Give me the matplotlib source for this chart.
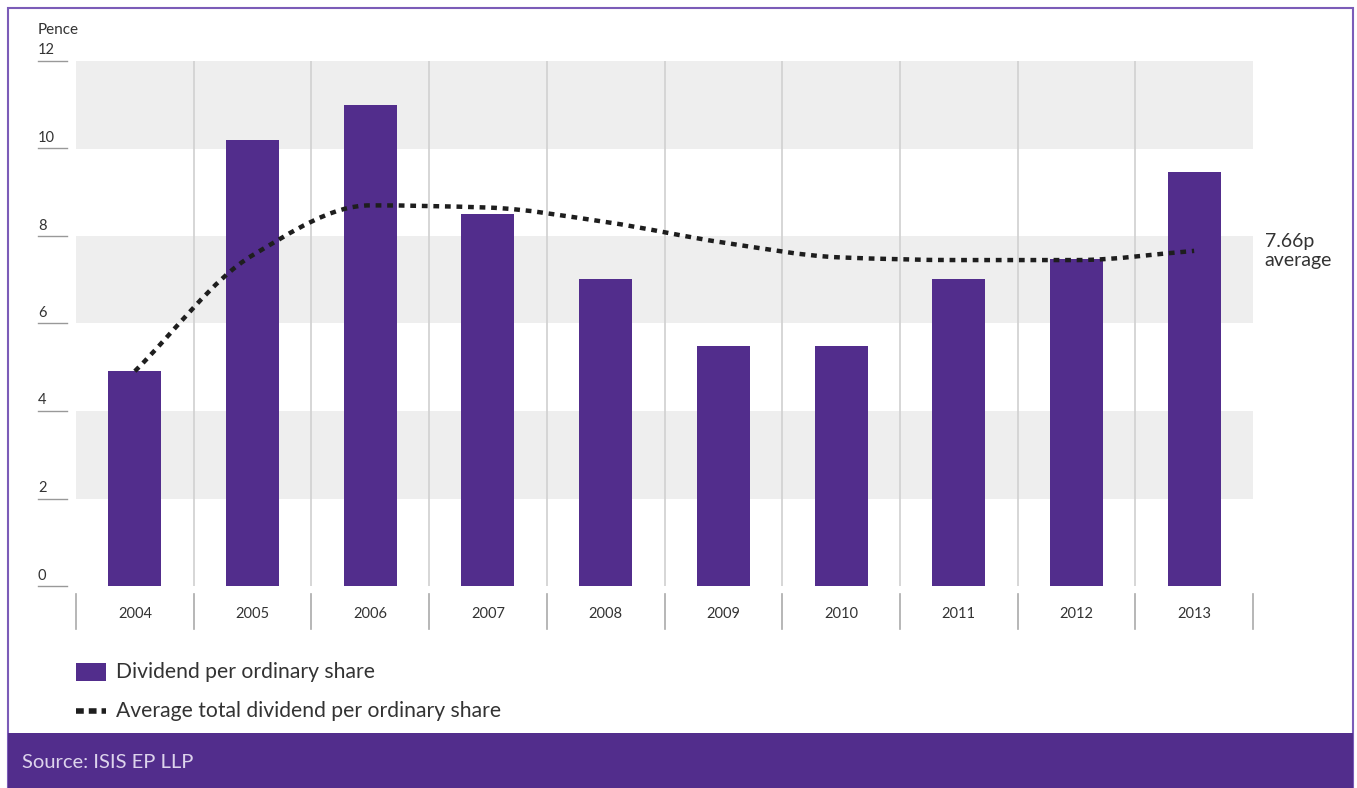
import matplotlib.pyplot as plt
import numpy as np
from matplotlib.path import Path
from matplotlib.patches import PathPatch, Rectangle
import matplotlib.transforms as mtransforms

plt.rcParams['font.family'] = ['Lato', 'DejaVu Sans']

# data
years = ["2004", "2005", "2006", "2007", "2008", "2009", "2010", "2011", "2012", "2013"]
dividend = [4.91, 10.19, 10.99, 8.50, 7.02, 5.49, 5.49, 7.02, 7.47, 9.46]
average = [4.91, 7.56, 8.70, 8.65, 8.32, 7.85, 7.51, 7.45, 7.45, 7.66]
yticks = [0, 2, 4, 6, 8, 10, 12]

purple = "#522d8c"
W, H = 1357, 788
fig = plt.figure(figsize=(W / 100, H / 100), dpi=100)

# outer frame and footer band
fig.patches.append(Rectangle((8 / W, 0), 1345 / W, 780 / H, transform=fig.transFigure,
                             fill=False, edgecolor="#7b5cb8", lw=1.5))
fig.patches.append(Rectangle((8 / W, 0), 1345 / W, 55 / H, transform=fig.transFigure,
                             facecolor=purple, edgecolor="none"))
fig.text(22 / W, 25 / H, "Source: ISIS EP LLP", color="#ddd4ec", fontsize=14.5, va="center")

ax = fig.add_axes([76 / W, 202 / H, 1177 / W, 525 / H])
x = np.arange(len(years))
ax.set_xlim(-0.5, len(years) - 0.5)
ax.set_ylim(0, 12)

# grey bands
for lo in [2, 6, 10]:
    ax.axhspan(lo, lo + 2, color="#eeeeee", zorder=0, lw=0)
# vertical separators
for b in np.arange(0.5, len(years) - 0.5):
    ax.axvline(b, color="#d0d0d0", lw=1.2, zorder=1)

ax.bar(x, dividend, width=0.45, color=purple, zorder=2)

# smooth line through the averages (monotone cubic segments)
xs = x.astype(float)
ys = np.array(average, dtype=float)
sec = np.diff(ys) / np.diff(xs)
tan = np.zeros_like(ys)
tan[0], tan[-1] = sec[0], sec[-1]
for i in range(1, len(ys) - 1):
    if sec[i - 1] * sec[i] > 0:
        tan[i] = 2 / (1 / sec[i - 1] + 1 / sec[i])
verts = [(xs[0], ys[0])]
codes = [Path.MOVETO]
for i in range(len(xs) - 1):
    h = xs[i + 1] - xs[i]
    verts += [(xs[i] + h / 3, ys[i] + tan[i] * h / 3),
              (xs[i + 1] - h / 3, ys[i + 1] - tan[i + 1] * h / 3),
              (xs[i + 1], ys[i + 1])]
    codes += [Path.CURVE4] * 3
ax.add_patch(PathPatch(Path(verts, codes), fill=False, edgecolor="#1e1e1e", lw=3.2,
                       linestyle=(0, (1.3, 1.3)), zorder=3, capstyle="butt"))

ax.text(9.6, 7.66, "7.66p\naverage", fontsize=14, color="#333333", va="center",
        ha="left", linespacing=1.1, clip_on=False)

for s in ax.spines.values():
    s.set_visible(False)
ax.set_xticks([])
ax.set_yticks([])

# y labels with underline
ty = mtransforms.blended_transform_factory(ax.transAxes, ax.transData)
for v in yticks:
    ax.plot([-0.0323, -0.0076], [v, v], color="#999999", lw=1, transform=ty, clip_on=False)
    ax.text(-0.0323, v + 0.08, str(v), transform=ty, fontsize=10.5, color="#333333",
            ha="left", va="bottom")
ax.text(-0.0323, 12.55, "Pence", transform=ty, fontsize=11, color="#333333",
        ha="left", va="bottom")

# x labels between separators
tx = mtransforms.blended_transform_factory(ax.transData, ax.transAxes)
for b in np.arange(-0.5, len(years)):
    ax.plot([b, b], [-0.0152, -0.0819], color="#aaaaaa", lw=1.2, transform=tx, clip_on=False)
for i, yr in enumerate(years):
    ax.text(i, -0.0535, yr, transform=tx, fontsize=10.5, color="#333333",
            ha="center", va="center")

# legend
fig.patches.append(Rectangle((76 / W, (788 - 681) / H), 30 / W, 18 / H,
                             transform=fig.transFigure, facecolor=purple, edgecolor="none"))
fig.text(116 / W, (788 - 672) / H, "Dividend per ordinary share", fontsize=15.2,
         color="#333333", va="center")
fig.add_artist(plt.Line2D([76 / W, 106 / W], [(788 - 711) / H] * 2, transform=fig.transFigure,
                          color="#1e1e1e", lw=4, linestyle=(0, (1.4, 0.9))))
fig.text(116 / W, (788 - 711) / H, "Average total dividend per ordinary share", fontsize=15.2,
         color="#333333", va="center")

fig.savefig("out.png", dpi=100)
